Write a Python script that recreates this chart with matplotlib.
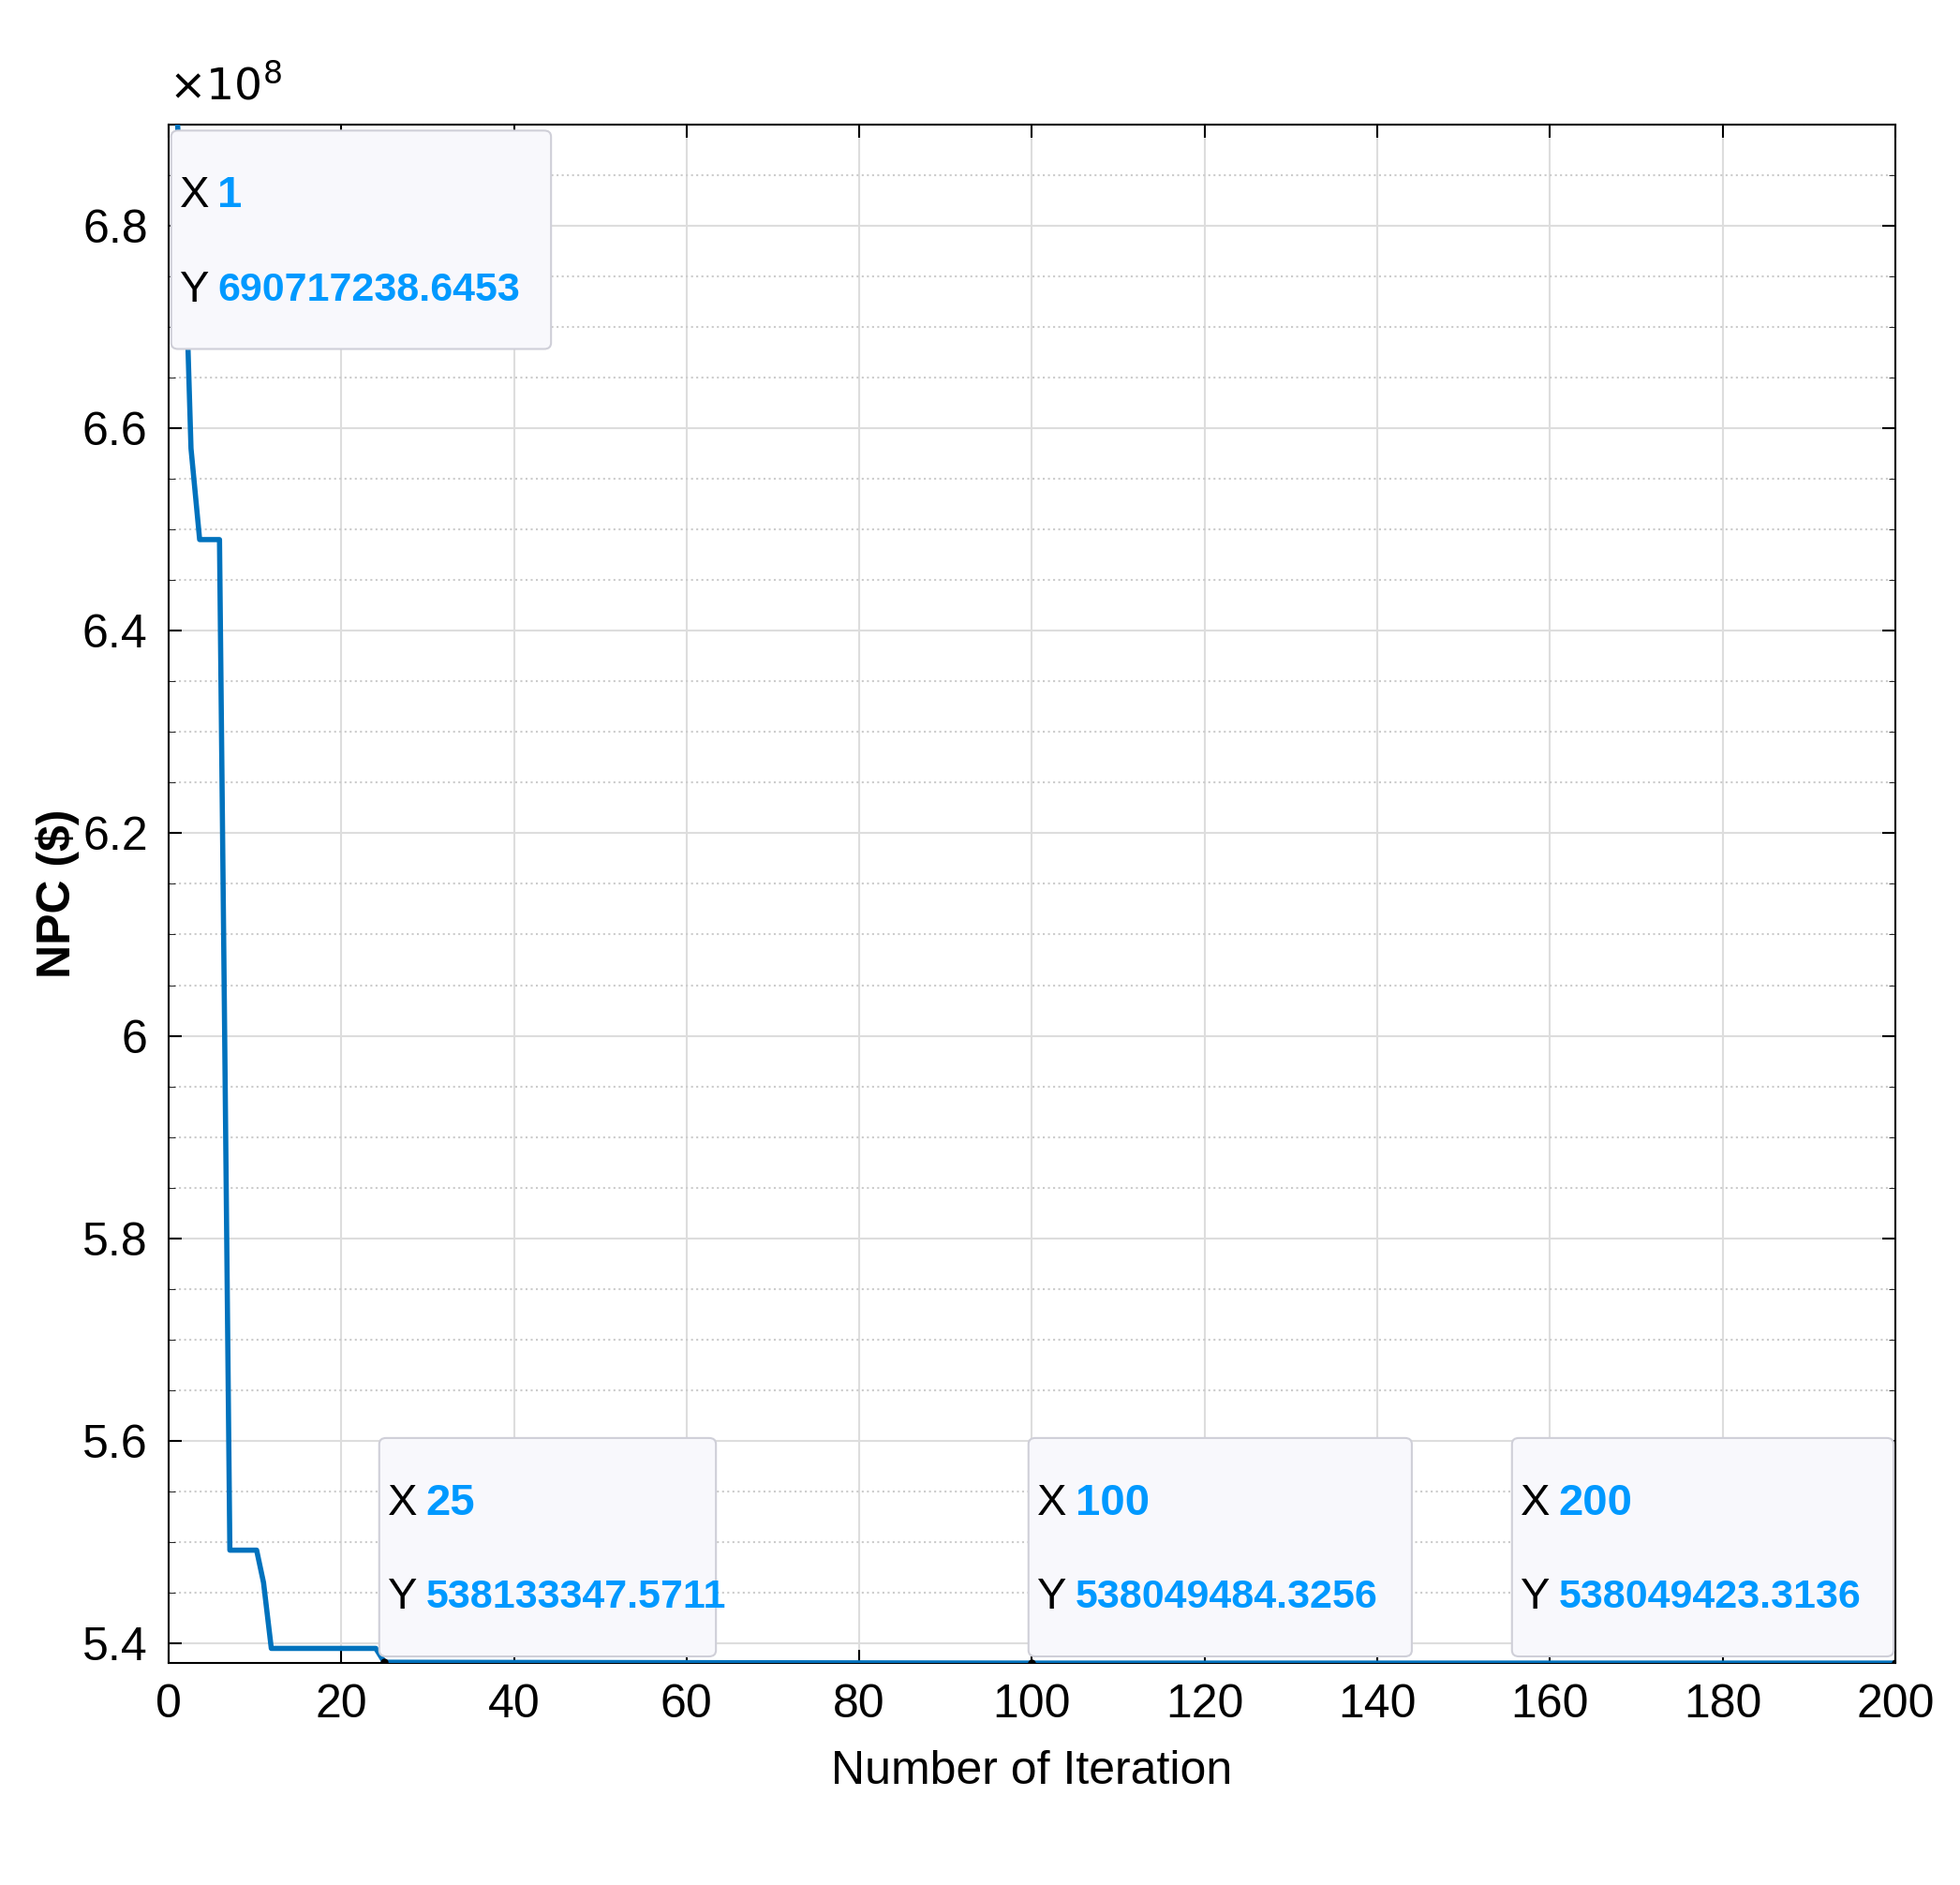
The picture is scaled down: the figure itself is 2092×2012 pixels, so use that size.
import matplotlib
matplotlib.use("Agg")
import matplotlib.pyplot as plt
from matplotlib.patches import FancyBboxPatch
from matplotlib.ticker import MultipleLocator

iters = [1, 2, 2.6, 3.6, 5.9, 6.5, 7.1, 10.2, 11.0, 11.9, 24.0, 25, 100, 200]
npc = [6.907, 6.75, 6.58, 6.49, 6.49, 6.0, 5.492, 5.492, 5.46, 5.395, 5.395, 5.38133, 5.38049, 5.38049]
tip_x = [1, 25, 100, 200]
tip_y_text = ["690717238.6453", "538133347.5711", "538049484.3256", "538049423.3136"]
tip_y = [6.907, 5.38133, 5.38049, 5.38049]
xticks = list(range(0, 201, 20))
yticks = [5.4, 5.6, 5.8, 6.0, 6.2, 6.4, 6.6, 6.8]
ytick_labels = ["5.4", "5.6", "5.8", "6", "6.2", "6.4", "6.6", "6.8"]

plt.rcParams['font.family'] = ['Liberation Sans', 'DejaVu Sans']
fig = plt.figure(figsize=(20.92, 20.12), dpi=100)
ax = fig.add_axes([0.086, 0.118, 0.881, 0.816])
ax.plot(iters, npc, color='#0072BD', lw=4, zorder=3)
ax.plot(tip_x, tip_y, 'o', color='black', ms=5, zorder=4)
ax.set_xlim(0, 200)
ax.set_ylim(5.381, 6.9)
ax.set_xticks(xticks)
ax.set_xticklabels([str(v) for v in xticks])
ax.set_yticks(yticks)
ax.set_yticklabels(ytick_labels)
ax.yaxis.set_minor_locator(MultipleLocator(0.05))
ax.grid(True, which='major', color='#dddddd', lw=1.5)
ax.grid(True, which='minor', axis='y', color='#cccccc', ls=':', lw=1.5)
ax.tick_params(axis='both', which='major', labelsize=36, direction='in', length=10, width=1.5, top=True, right=True, pad=16)
ax.tick_params(axis='y', which='minor', direction='in', length=5, left=True, right=True)
for s in ax.spines.values():
    s.set_linewidth(1.5)
ax.set_xlabel("Number of Iteration", fontsize=36, labelpad=18)
ax.set_ylabel("NPC ($)", fontsize=36, fontweight='bold', labelpad=2)
ax.text(0.0, 1.01, r"$\times10^{8}$", transform=ax.transAxes, fontsize=34, va='bottom', ha='left')

boxes = [(0.0015, 0.854, 0.22, 0.142), (0.122, 0.004, 0.195, 0.142),
         (0.498, 0.004, 0.222, 0.142), (0.778, 0.004, 0.221, 0.142)]
for (bx, by, bw, bh), xv, yv in zip(boxes, tip_x, tip_y_text):
    p = FancyBboxPatch((bx, by), bw, bh, boxstyle="round,pad=0,rounding_size=0.004",
                       transform=ax.transAxes, facecolor='#f8f8fc', edgecolor='#cfcfd8', lw=1.5, zorder=5)
    ax.add_patch(p)
    tx = bx + 0.005
    ax.text(tx, by + bh * 0.70, "X", transform=ax.transAxes, fontsize=34, va='center', zorder=6)
    ax.text(tx + 0.022, by + bh * 0.70, str(xv), transform=ax.transAxes, fontsize=34, va='center', color='#0099ff', fontweight='bold', zorder=6)
    ax.text(tx, by + bh * 0.27, "Y", transform=ax.transAxes, fontsize=34, va='center', zorder=6)
    ax.text(tx + 0.022, by + bh * 0.27, yv, transform=ax.transAxes, fontsize=31, va='center', color='#0099ff', fontweight='bold', zorder=6)

fig.savefig("out.png", dpi=100)
